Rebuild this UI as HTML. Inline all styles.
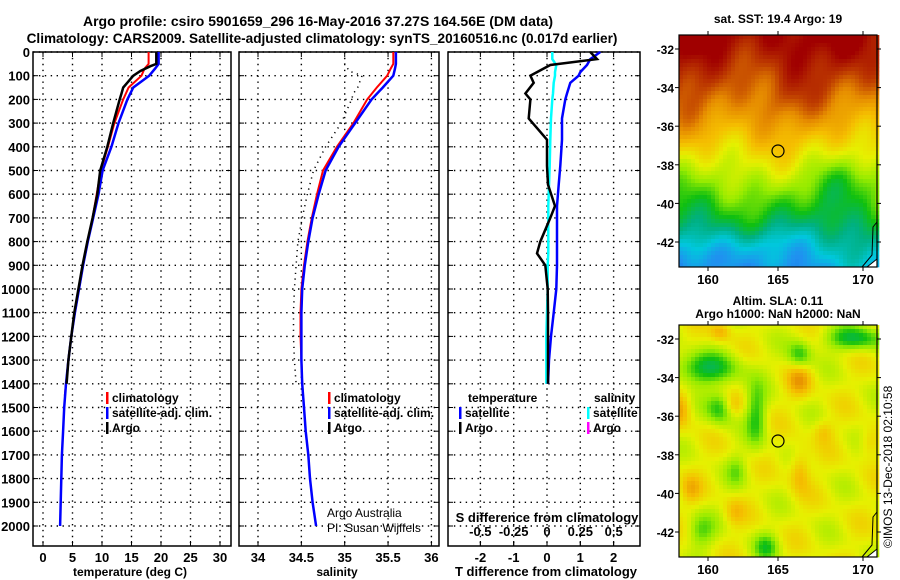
<!DOCTYPE html>
<html><head><meta charset="utf-8"><style>
html,body{margin:0;padding:0;background:#fff;}
svg{display:block;font-family:"Liberation Sans",sans-serif;font-weight:bold;}
</style></head><body>
<svg id="c" width="900" height="580" viewBox="0 0 900 580" xmlns="http://www.w3.org/2000/svg">
<text x="318" y="26" font-size="14" text-anchor="middle">Argo profile: csiro 5901659_296 16-May-2016 37.27S 164.56E (DM data)</text>
<text x="322" y="43" font-size="13.6" text-anchor="middle">Climatology: CARS2009. Satellite-adjusted climatology: synTS_20160516.nc (0.017d earlier)</text>
<g id="p1"></g>
<g id="p2"></g>
<g id="p3"></g>
<g id="m1"></g>
<g id="m2"></g>
<text x="0" y="0" font-size="12" font-weight="normal" transform="translate(892,548) rotate(-90)">©IMOS 13-Dec-2018 02:10:58</text>
</svg>
<script>
// ---- data ----
const depthTicks=[0,100,200,300,400,500,600,700,800,900,1000,1100,1200,1300,1400,1500,1600,1700,1800,1900,2000];
const tempTicks=[0,5,10,15,20,25,30];
const salTicks=[34,34.5,35,35.5,36];
const salTickLabels=["34","34.5","35","35.5","36"];
const tdiffTicks=[-2,-1,0,1,2];
const sdiffTicks=[-0.5,-0.25,0,0.25,0.5];
const sdiffTickLabels=["-0.5","-0.25","0","0.25","0.5"];

const climDepth=[0,50,70,100,150,200,300,400,500,600,700,800,900,1000,1100,1200,1300,1400,1450];
const climTemp=[17.9,17.9,17.2,16.7,14.5,13.6,12.1,11.0,9.8,9.1,8.4,7.6,6.8,6.1,5.4,4.8,4.3,3.9,3.7];
const climSal=[35.56,35.56,35.53,35.49,35.37,35.26,35.1,34.91,34.75,34.68,34.62,34.57,34.53,34.5,34.49,34.49,34.5,34.51,34.52];

const satDepth=[0,50,70,100,150,200,300,400,500,600,700,800,900,1000,1100,1200,1300,1400,1500,1600,1700,1800,1900,2000];
const satTemp=[19.6,19.6,19.0,18.0,15.3,14.3,12.8,11.6,10.1,9.4,8.5,7.6,6.8,6.1,5.4,4.8,4.3,3.9,3.6,3.4,3.2,3.1,3.0,2.9];
const satSal=[35.59,35.59,35.58,35.56,35.44,35.31,35.12,34.93,34.78,34.7,34.63,34.58,34.54,34.51,34.5,34.5,34.5,34.51,34.53,34.55,34.58,34.6,34.63,34.67];

const argoDepth=[0,50,60,80,100,150,175,200,300,400,500,600,700,800,900,1000,1100,1200,1300,1400];
const argoTemp=[19.2,19.2,18.2,16.5,15.3,13.6,13.3,13.0,11.9,10.9,9.7,9.2,8.4,7.5,6.7,6.0,5.3,4.8,4.3,4.0];
const argoSal=[35.0,35.0,35.02,35.05,35.2,35.15,35.1,35.08,34.96,34.78,34.64,34.57,34.51,34.46,34.44,34.42,34.41,34.41,34.42,34.44];

const diffDepth=[0,30,55,85,100,130,175,200,280,370,480,560,650,700,800,850,900,1000,1100,1200,1300,1400];
const satTDiff=[1.6,1.3,1.2,1.0,0.95,0.7,0.6,0.55,0.45,0.45,0.4,0.35,0.3,0.3,0.3,0.3,0.3,0.28,0.2,0.12,0.06,0.03];
const argoTDiff=[1.3,1.5,0.1,-0.3,-0.5,-0.4,-0.65,-0.5,-0.55,0.0,0.0,0.03,0.24,0.1,-0.2,-0.3,-0.05,0.02,0.03,0.03,0.03,0.03];
const satSDiff=[0.04,0.04,0.07,0.06,0.06,0.05,0.045,0.04,0.03,0.025,0.02,0.015,0.01,0.01,0.01,0.01,0.005,0.005,0.0,-0.005,-0.005,-0.005];

const NS="http://www.w3.org/2000/svg";
function mk(p,tag,at){const e=document.createElementNS(NS,tag);for(const k in at)e.setAttribute(k,at[k]);p.appendChild(e);return e;}
const Y0=52,YB=546,KY=0.237;
const yD=d=>Y0+d*KY;
const xT=t=>43+5.9*t;
const xS=s=>258+(s-34)*86.7;
const xTD=t=>547+33.3*t;
const xSD=s=>547+133.3*s;

function frame(g,x0,x1,xt,xs,showDepthLabels){
  depthTicks.forEach(d=>{const y=yD(d);
    const l=mk(g,'line',{x1:x0,x2:x1,y1:y,y2:y,stroke:'#000','stroke-width':1.4,'stroke-dasharray':'1.4 4.5'});
    
    mk(g,'line',{x1:x0,x2:x0+5,y1:y,y2:y,stroke:'#000'});
    mk(g,'line',{x1:x1-5,x2:x1,y1:y,y2:y,stroke:'#000'});
    if(showDepthLabels){const t=mk(g,'text',{x:30,y:y+5,'font-size':13,'text-anchor':'end'});t.textContent=d;
      }
  });
  xt.forEach(v=>{const x=xs(v);
    const l=mk(g,'line',{x1:x,x2:x,y1:Y0,y2:YB,stroke:'#000','stroke-width':1.4,'stroke-dasharray':'1.4 4.5'});
    
    mk(g,'line',{x1:x,x2:x,y1:Y0,y2:Y0+5,stroke:'#000'});
    mk(g,'line',{x1:x,x2:x,y1:YB-5,y2:YB,stroke:'#000'});
  });
  const r=mk(g,'rect',{x:x0,y:Y0,width:x1-x0,height:YB-Y0,fill:'none',stroke:'#000','stroke-width':1.5});
  
}
function line(g,xs,vals,deps,col,w,name,dash){
  const pts=vals.map((v,i)=>xs(v).toFixed(1)+','+yD(deps[i]).toFixed(1)).join(' ');
  const a={points:pts,fill:'none',stroke:col,'stroke-width':w};if(dash)a['stroke-dasharray']=dash;
  const p=mk(g,'polyline',a);
  
  
}
function txt(g,x,y,s,fs,name,anchor,weight){const t=mk(g,'text',{x:x,y:y,'font-size':fs,'text-anchor':anchor||'start'});if(weight)t.setAttribute('font-weight',weight);t.textContent=s;
  return t;}
function legend(g,x,y,col,label){mk(g,'rect',{x:x,y:y-10,width:2.5,height:12,fill:col});txt(g,x+6,y,label,12,'legend-entry');}

// panel 1
const p1=document.getElementById('p1');
frame(p1,33,231,tempTicks,xT,true);
tempTicks.forEach(v=>txt(p1,xT(v),562,v,13,'temp-tick-label','middle'));
line(p1,xT,climTemp,climDepth,'#f00',2,'climatology-temp-line');
line(p1,xT,satTemp,satDepth,'#00f',2.5,'satellite-temp-line');
line(p1,xT,argoTemp,argoDepth,'#000',2.5,'argo-temp-line');
txt(p1,130,576,'temperature (deg C)',12,'x-axis-title','middle');
legend(p1,106,402,'#f00','climatology');
legend(p1,106,417,'#00f','satellite-adj. clim.');
legend(p1,106,432,'#000','Argo');

// panel 2
const p2=document.getElementById('p2');
frame(p2,239,439,salTicks,xS,false);
salTicks.forEach((v,i)=>txt(p2,xS(v),562,salTickLabels[i],13,'sal-tick-label','middle'));
line(p2,xS,argoSal,argoDepth,'#000',1.5,'argo-sal-line','1.2 4.5');
line(p2,xS,climSal,climDepth,'#f00',2,'climatology-sal-line');
line(p2,xS,satSal,satDepth,'#00f',2.5,'satellite-sal-line');
txt(p2,337,576,'salinity',12,'x-axis-title','middle');
legend(p2,328,402,'#f00','climatology');
legend(p2,328,417,'#00f','satellite-adj. clim.');
legend(p2,328,432,'#000','Argo');
txt(p2,327,517,'Argo Australia',12,'credit-text','start','normal');
txt(p2,327,532,'PI: Susan Wijffels',12,'credit-text','start','normal');

// panel 3
const p3=document.getElementById('p3');
frame(p3,448,640,tdiffTicks,xTD,false);
sdiffTicks.forEach(v=>{const x=xSD(v);mk(p3,'line',{x1:x,x2:x,y1:YB-5,y2:YB,stroke:'#000'});});
tdiffTicks.forEach(v=>txt(p3,xTD(v),562,v,13,'tdiff-tick-label','middle'));
sdiffTicks.forEach((v,i)=>{txt(p3,xSD(v),536,sdiffTickLabels[i],13,'sdiff-tick-label','middle');});
txt(p3,547,522,'S difference from climatology',13,'s-axis-title','middle');
txt(p3,546,576,'T difference from climatology',13,'x-axis-title','middle');
line(p3,xSD,satSDiff,diffDepth,'#0ff',2.5,'satellite-sdiff-line');
line(p3,xTD,satTDiff,diffDepth,'#00f',2.5,'satellite-tdiff-line');
line(p3,xTD,argoTDiff,diffDepth,'#000',2.5,'argo-tdiff-line');
txt(p3,468,402,'temperature',12,'legend-heading');
legend(p3,459,417,'#00f','satellite');
legend(p3,459,432,'#000','Argo');
txt(p3,594,402,'salinity',12,'legend-heading');
legend(p3,587,417,'#0ff','satellite');
legend(p3,587,432,'#f0f','Argo');

// maps
const cmap=[[0,[0,64,208]],[0.1,[32,144,240]],[0.2,[0,200,220]],[0.3,[0,176,130]],[0.4,[16,192,16]],[0.5,[150,235,0]],[0.6,[230,240,0]],[0.7,[245,190,0]],[0.8,[230,140,0]],[0.9,[190,60,0]],[1,[160,0,0]]];
function col(v){v=Math.max(0,Math.min(1,v));for(let i=1;i<cmap.length;i++){if(v<=cmap[i][0]){const a=cmap[i-1],b=cmap[i],f=(v-a[0])/(b[0]-a[0]);return 'rgb('+a[1].map((c,j)=>Math.round(c+(b[1][j]-c)*f)).join(',')+')';}}return 'rgb(160,0,0)';}
function map(g,x0,y0,w,h,fn,latY,title1,title2,cy){
  const cs=4;
  for(let y=0;y<h;y+=cs)for(let x=0;x<w;x+=cs){mk(g,'rect',{x:x0+x,y:y0+y,width:cs+0.3,height:cs+0.3,fill:col(fn(x/w,y/h))});}
  mk(g,'polyline',{points:(x0+w-15)+','+(y0+h)+' '+(x0+w-5)+','+(y0+h-12)+' '+(x0+w-4)+','+(y0+h-40)+' '+(x0+w)+','+(y0+h-45),fill:'none',stroke:'#000'});
  mk(g,'polygon',{points:(x0+w-10)+','+(y0+h)+' '+(x0+w)+','+(y0+h-8)+' '+(x0+w)+','+(y0+h),fill:'#fff',stroke:'#000'});
  const r=mk(g,'rect',{x:x0,y:y0,width:w,height:h,fill:'none',stroke:'#000','stroke-width':1.2});
  
  const c=mk(g,'circle',{cx:778,cy:cy,r:6,fill:'none',stroke:'#000','stroke-width':1.2});
  
  [-32,-34,-36,-38,-40,-42].forEach((lat,i)=>{const y=latY+i*38.6;
    mk(g,'line',{x1:x0-4,x2:x0,y1:y,y2:y,stroke:'#000'});mk(g,'line',{x1:x0+w,x2:x0+w+4,y1:y,y2:y,stroke:'#000'});
    txt(g,x0-5,y+5,lat,12,'lat-tick-label','end');});
  [[160,708],[165,778],[170,863]].forEach(a=>{mk(g,'line',{x1:a[1],x2:a[1],y1:y0-4,y2:y0,stroke:'#000'});mk(g,'line',{x1:a[1],x2:a[1],y1:y0+h,y2:y0+h+4,stroke:'#000'});
    txt(g,a[1],y0+h+17,a[0],13,'lon-tick-label','middle');});
  txt(g,778,y0-(title2?20:12),title1,12,'map-title','middle');
  if(title2)txt(g,778,y0-7,title2,12,'map-title','middle');
}
const gb=(u,v,cu,cv,su,sv,a)=>a*Math.exp(-((u-cu)*(u-cu))/(su*su)-((v-cv)*(v-cv))/(sv*sv));
const f1=(u,v)=>{
  const w=0.035*Math.sin(u*9+v*5+1)+0.03*Math.sin(u*17-v*13)+0.02*Math.sin(u*31+v*19);
  let base=1.0-0.85*Math.pow(v,1.2);
  base+=gb(u,v,0.1,0.35,0.1,0.15,0.08)+gb(u,v,0.55,0.28,0.12,0.1,0.04)-gb(u,v,0.85,0.62,0.15,0.1,0.08)-gb(u,v,0.15,0.95,0.2,0.1,0.1)-gb(u,v,0.45,0.9,0.2,0.08,0.06);
  return base+w;};
const f2=(u,v)=>{
  let b=0.6+0.03*Math.sin(u*21+v*9)+0.03*Math.sin(u*13-v*27);
  b-=gb(u,v,0.12,0.18,0.18,0.07,0.22)+gb(u,v,0.88,0.05,0.15,0.05,0.22)+gb(u,v,0.6,0.12,0.06,0.06,0.18)+gb(u,v,0.38,0.38,0.05,0.13,0.18)+gb(u,v,0.28,0.62,0.05,0.07,0.1)+gb(u,v,0.1,0.88,0.07,0.07,0.14)+gb(u,v,0.43,0.95,0.06,0.06,0.16)+gb(u,v,0.2,0.35,0.07,0.07,0.2);
  b+=gb(u,v,0.6,0.23,0.06,0.07,0.14)+gb(u,v,0.0,0.35,0.05,0.08,0.14)+gb(u,v,0.26,0.34,0.05,0.05,0.1)+gb(u,v,0.6,0.62,0.05,0.09,0.12)+gb(u,v,0.2,0.02,0.05,0.04,0.12)+gb(u,v,0.72,0.45,0.05,0.05,0.08)+gb(u,v,0.05,0.7,0.05,0.06,0.1)+gb(u,v,0.27,0.8,0.05,0.06,0.08)+gb(u,v,0.95,0.5,0.05,0.06,0.08);
  return b;};
map(document.getElementById('m1'),679,35,198,232,f1,49,'sat. SST: 19.4 Argo: 19',null,151);
map(document.getElementById('m2'),679,325,198,232,f2,339,'Altim. SLA: 0.11','Argo h1000: NaN h2000: NaN',441);
</script>
</body></html>
